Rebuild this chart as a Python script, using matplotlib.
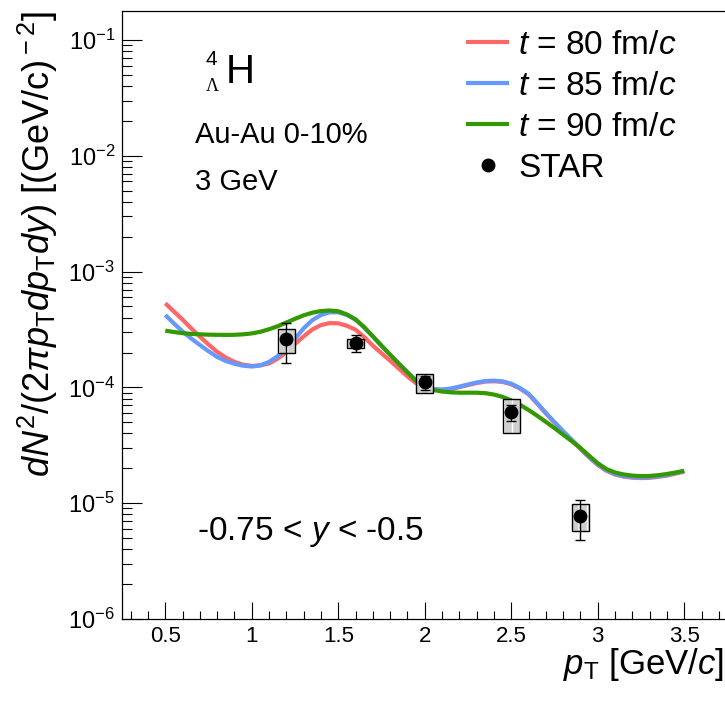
import numpy as np
import matplotlib
matplotlib.use("Agg")
import matplotlib.pyplot as plt
from matplotlib.patches import Rectangle
from matplotlib.ticker import FixedLocator, NullFormatter, MultipleLocator

plt.rcParams['font.family'] = ['Liberation Sans', 'DejaVu Sans']
plt.rcParams['mathtext.fontset'] = 'custom'
plt.rcParams['mathtext.rm'] = 'Liberation Sans'
plt.rcParams['mathtext.it'] = 'Liberation Sans:italic'
plt.rcParams['mathtext.bf'] = 'Liberation Sans:bold'

# model curves, log10 of the yield, every 0.05 GeV/c
pt_model = [0.50, 0.55, 0.60, 0.65, 0.70, 0.75, 0.80, 0.85, 0.90, 0.95,
            1.00, 1.05, 1.10, 1.15, 1.20, 1.25, 1.30, 1.35, 1.40, 1.45,
            1.50, 1.55, 1.60, 1.65, 1.70, 1.75, 1.80, 1.85, 1.90, 1.95,
            2.00, 2.05, 2.10, 2.15, 2.20, 2.25, 2.30, 2.35, 2.40, 2.45,
            2.50, 2.55, 2.60, 2.65, 2.70, 2.75, 2.80, 2.85, 2.90, 2.95,
            3.00, 3.05, 3.10, 3.15, 3.20, 3.25, 3.30, 3.35, 3.40, 3.45, 3.50]
t80_log = [-3.274, -3.345, -3.415, -3.490, -3.562, -3.630, -3.693, -3.742, -3.780, -3.804,
           -3.815, -3.810, -3.793, -3.752, -3.695, -3.625, -3.560, -3.500, -3.462, -3.445,
           -3.447, -3.468, -3.502, -3.565, -3.640, -3.705, -3.770, -3.837, -3.905, -3.965,
           -3.995, -4.020, -4.023, -4.015, -3.998, -3.980, -3.963, -3.950, -3.947, -3.953,
           -3.973, -4.010, -4.060, -4.140, -4.225, -4.305, -4.383, -4.457, -4.533, -4.605,
           -4.670, -4.720, -4.753, -4.771, -4.780, -4.783, -4.781, -4.772, -4.762, -4.745, -4.727]
t85_log = [-3.375, -3.448, -3.517, -3.578, -3.634, -3.688, -3.737, -3.772, -3.796, -3.813,
           -3.820, -3.810, -3.780, -3.730, -3.665, -3.580, -3.490, -3.420, -3.375, -3.352,
           -3.352, -3.375, -3.415, -3.482, -3.560, -3.640, -3.718, -3.795, -3.870, -3.940,
           -3.985, -4.015, -4.018, -4.010, -3.993, -3.975, -3.958, -3.945, -3.942, -3.948,
           -3.968, -4.005, -4.055, -4.135, -4.220, -4.300, -4.378, -4.452, -4.528, -4.600,
           -4.665, -4.715, -4.748, -4.766, -4.775, -4.778, -4.776, -4.767, -4.757, -4.740, -4.722]
t90_log = [-3.510, -3.522, -3.532, -3.538, -3.542, -3.545, -3.546, -3.547, -3.546, -3.542,
           -3.534, -3.520, -3.498, -3.472, -3.440, -3.408, -3.378, -3.355, -3.341, -3.336,
           -3.343, -3.370, -3.413, -3.480, -3.560, -3.640, -3.718, -3.795, -3.870, -3.945,
           -3.995, -4.022, -4.036, -4.043, -4.046, -4.046, -4.046, -4.050, -4.062, -4.082,
           -4.112, -4.150, -4.195, -4.245, -4.298, -4.352, -4.408, -4.465, -4.523, -4.590,
           -4.655, -4.705, -4.735, -4.752, -4.762, -4.766, -4.765, -4.758, -4.748, -4.735, -4.720]

# STAR data
star_pt = [1.2, 1.6, 2.0, 2.5, 2.9]
star_y = [2.6e-4, 2.4e-4, 1.11e-4, 6.1e-5, 7.8e-6]
stat_lo = [1.61e-4, 2.01e-4, 9.5e-5, 5.1e-5, 4.8e-6]
stat_hi = [3.57e-4, 2.83e-4, 1.25e-4, 7.05e-5, 1.07e-5]
sys_lo = [2.0e-4, 2.18e-4, 8.9e-5, 4.0e-5, 5.8e-6]
sys_hi = [3.18e-4, 2.61e-4, 1.31e-4, 7.9e-5, 9.85e-6]

W, H = 725, 703
fig = plt.figure(figsize=(W / 100, H / 100), dpi=100)
ax = fig.add_axes([122 / W, 84 / H, (727.5 - 122) / W, (619 - 11) / H])

lw = 3.0
ax.plot(pt_model, 10 ** np.array(t80_log), color='#ff6666', lw=lw, label='$t$ = 80 fm/$c$',
        zorder=3, solid_capstyle='butt')
ax.plot(pt_model, 10 ** np.array(t85_log), color='#6699ff', lw=lw, label='$t$ = 85 fm/$c$',
        zorder=4, solid_capstyle='butt')
ax.plot(pt_model, 10 ** np.array(t90_log), color='#339900', lw=lw, label='$t$ = 90 fm/$c$',
        zorder=5, solid_capstyle='butt')

# systematic boxes
half = 0.05
for x, lo, hi in zip(star_pt, sys_lo, sys_hi):
    ax.add_patch(Rectangle((x - half, lo), 2 * half, hi - lo, facecolor='#cfcfcf',
                           edgecolor='white', hatch='||', lw=0, zorder=6))
    ax.add_patch(Rectangle((x - half, lo), 2 * half, hi - lo, facecolor='none',
                           edgecolor='black', lw=1.0, zorder=7))

yerr = [np.array(star_y) - np.array(stat_lo), np.array(stat_hi) - np.array(star_y)]
ax.errorbar(star_pt, star_y, yerr=yerr, fmt='none', ecolor='black', elinewidth=1.0,
            capsize=3.5, capthick=1.0, zorder=8)
ax.plot(star_pt, star_y, 'o', color='black', ms=9, zorder=9, label='STAR')

ax.set_yscale('log')
ax.set_xlim(0.25, 3.75)
ax.set_ylim(1e-6, 10 ** -0.75)

ax.xaxis.set_minor_locator(MultipleLocator(0.1))
ax.set_xticks([0.5, 1, 1.5, 2, 2.5, 3, 3.5])
ax.set_xticklabels(['0.5', '1', '1.5', '2', '2.5', '3', '3.5'])
decades = [1e-6, 1e-5, 1e-4, 1e-3, 1e-2, 1e-1]
ax.yaxis.set_major_locator(FixedLocator(decades))
ax.set_yticklabels(['$10^{-6}$', '$10^{-5}$', '$10^{-4}$', '$10^{-3}$', '$10^{-2}$', '$10^{-1}$'])
minors = [m * d for d in decades for m in range(2, 10)]
ax.yaxis.set_minor_locator(FixedLocator(minors))
ax.yaxis.set_minor_formatter(NullFormatter())

ax.tick_params(axis='both', which='both', direction='in', width=0.8, colors='black')
ax.tick_params(axis='x', which='major', length=12.5, labelsize=16, pad=5)
ax.tick_params(axis='x', which='minor', length=6)
ax.tick_params(axis='y', which='major', length=14.5, labelsize=17, pad=5)
ax.tick_params(axis='y', which='minor', length=7)
ax.spines['right'].set_visible(False)
for s in ['left', 'bottom', 'top']:
    ax.spines[s].set_linewidth(0.9)

leg = ax.legend(loc='upper left', bbox_to_anchor=(466 / W, 1 - 30 / H),
                bbox_transform=fig.transFigure, frameon=False, fontsize=24,
                handlelength=1.3, handletextpad=0.27, labelspacing=0.3,
                borderpad=0, borderaxespad=0)

def fx(px):
    return px / W

def fy(py):
    return 1 - py / H

fig.text(fx(226), fy(83), 'H', fontsize=29, va='baseline', ha='left')
fig.text(fx(211), fy(59.5), '4', fontsize=15, va='center', ha='center')
fig.text(fx(212), fy(86.5), '\u039b', fontsize=13, va='center', ha='center',
         family=['Liberation Serif', 'DejaVu Serif'])
fig.text(fx(195), fy(143), 'Au-Au 0-10%', fontsize=21, va='baseline', ha='left')
fig.text(fx(195), fy(190), '3 GeV', fontsize=21, va='baseline', ha='left')
fig.text(fx(197), fy(540), '-0.75 < $y$ < -0.5', fontsize=24, va='baseline', ha='left')

fig.text(fx(724), fy(674), r'$p_{\rm T}$ [GeV/$c$]', fontsize=25, va='baseline', ha='right')
fig.text(fx(38), fy(11), r'$dN^{2}/(2\pi p_{\rm T}dp_{\rm T}dy)$ [(GeV/c)$^{\rm -2}$]',
         fontsize=26, rotation=90, va='top', ha='center')

fig.savefig('out.png', dpi=100)
